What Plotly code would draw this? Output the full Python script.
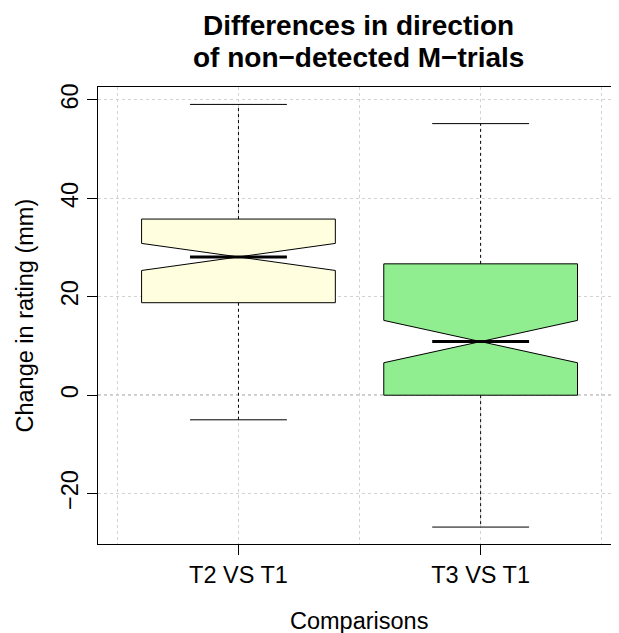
import plotly.graph_objects as go

# ---- data ----
categories = ["T2 VS T1", "T3 VS T1"]
positions = [1, 2]
lower_whisker = [-5.0, -26.8]
q1_values = [18.8, 0.0]
medians = [28.1, 10.9]
q3_values = [35.8, 26.7]
upper_whisker = [59.1, 55.2]
notch_half_span = [2.75, 4.3]
fill_colors = ["#FFFFE0", "#90EE90"]
y_ticks = [-20, 0, 20, 40, 60]

# ---- styles ----
BOX_WIDTH = 0.8
CAP_FRACTION = 0.5
FONT = "Liberation Sans, Arial, Helvetica, sans-serif"
GRID = "#D3D3D3"
LABEL_SIZE = 23.5

fig = go.Figure()

for i, cat in enumerate(categories):
    x = positions[i]
    half_cap = BOX_WIDTH * CAP_FRACTION / 2
    # dashed whiskers
    fig.add_trace(go.Scatter(
        x=[x, x, None, x, x],
        y=[q3_values[i], upper_whisker[i], None, q1_values[i], lower_whisker[i]],
        mode="lines", line=dict(color="black", width=1, dash="3px,3px"),
        hoverinfo="skip", showlegend=False))
    # whisker caps
    fig.add_trace(go.Scatter(
        x=[x - half_cap, x + half_cap, None, x - half_cap, x + half_cap],
        y=[upper_whisker[i], upper_whisker[i], None, lower_whisker[i], lower_whisker[i]],
        mode="lines", line=dict(color="black", width=1),
        hoverinfo="skip", showlegend=False))
    # notched box
    fig.add_trace(go.Box(
        x=[x], q1=[q1_values[i]], median=[medians[i]], q3=[q3_values[i]],
        lowerfence=[q1_values[i]], upperfence=[q3_values[i]],
        notched=True, notchspan=[notch_half_span[i]], notchwidth=0.5,
        width=BOX_WIDTH, fillcolor=fill_colors[i],
        line=dict(color="black", width=1), boxpoints=False,
        whiskerwidth=0, name=cat, showlegend=False, hoverinfo="skip"))
    # thick median
    fig.add_trace(go.Scatter(
        x=[x - half_cap, x + half_cap], y=[medians[i], medians[i]],
        mode="lines", line=dict(color="black", width=3),
        hoverinfo="skip", showlegend=False))

fig.add_shape(type="line", xref="paper", x0=0, x1=1, yref="y", y0=0, y1=0,
              line=dict(color="#555555", width=1, dash="dot"), layer="below")

fig.add_annotation(text="<b>Differences in direction</b>", xref="paper", yref="paper",
                   x=0.5, y=1.1346, xanchor="center", yanchor="middle", showarrow=False,
                   font=dict(family=FONT, size=28, color="black"))
fig.add_annotation(text="<b>of non\u2212detected M\u2212trials</b>", xref="paper", yref="paper",
                   x=0.5, y=1.0646, xanchor="center", yanchor="middle", showarrow=False,
                   font=dict(family=FONT, size=28, color="black"))
fig.add_annotation(text="Comparisons", xref="paper", yref="paper",
                   x=0.5, y=-0.1685, xanchor="center", yanchor="middle", showarrow=False,
                   font=dict(family=FONT, size=LABEL_SIZE, color="black"))
fig.add_annotation(text="Change in rating (mm)", xref="paper", yref="paper",
                   x=-0.142, y=0.5, xanchor="center", yanchor="middle", showarrow=False,
                   textangle=-90, font=dict(family=FONT, size=LABEL_SIZE, color="black"))

# the page body adds an 8px offset, so the figure is sized to end at the window edge
fig.update_layout(
    width=611, height=625,
    margin=dict(l=90, r=0, t=79, b=89, autoexpand=False),
    paper_bgcolor="white", plot_bgcolor="white",
    font=dict(family=FONT, size=LABEL_SIZE, color="black"),
    xaxis=dict(
        range=[0.42, 2.5713], tickmode="array", tickvals=positions, ticktext=categories,
        ticks="outside", ticklen=10, tickcolor="black", tickwidth=1,
        showline=True, linecolor="black", linewidth=1, mirror=True, automargin=False,
        showgrid=True, gridcolor=GRID, griddash="dot", gridwidth=1, zeroline=False,
        minor=dict(tick0=0.5, dtick=1, showgrid=True, gridcolor=GRID, griddash="dot", ticks=""),
        tickfont=dict(size=LABEL_SIZE)),
    yaxis=dict(
        range=[-30.24, 62.64], tickmode="array", tickvals=y_ticks,
        ticktext=[str(v).replace("-", "\u2212") for v in y_ticks],
        tickangle=-90, ticks="outside", ticklen=10, tickcolor="black", tickwidth=1,
        showline=True, linecolor="black", linewidth=1, mirror=False, automargin=False,
        showgrid=True, gridcolor=GRID, griddash="dot", gridwidth=1, zeroline=False,
        tickfont=dict(size=LABEL_SIZE)),
)

fig.write_html("out.html")
